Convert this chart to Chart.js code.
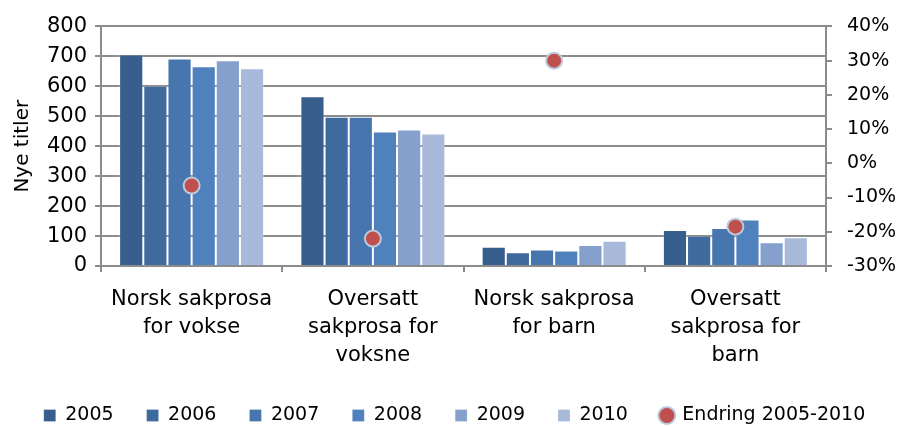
<!DOCTYPE html>
<html>
<head>
<meta charset="utf-8">
<script src="https://cdn.jsdelivr.net/npm/chart.js@4"></script>
<style>
html,body{margin:0;padding:0;background:#fff;}
#wrap{width:897px;height:427px;}
</style>
</head>
<body>
<div id="wrap"><canvas id="c" width="897" height="427"></canvas></div>
<script>
const categories = [
  ["Norsk sakprosa", "for vokse"],
  ["Oversatt", "sakprosa for", "voksne"],
  ["Norsk sakprosa", "for barn"],
  ["Oversatt", "sakprosa for", "barn"]
];
const years = ["2005", "2006", "2007", "2008", "2009", "2010"];
const v2005 = [706, 567, 64, 120];
const v2006 = [602, 498, 46, 101];
const v2007 = [693, 498, 55, 127];
const v2008 = [667, 449, 52, 155];
const v2009 = [687, 456, 70, 79];
const v2010 = [660, 442, 84, 96];
const endring = [-6.5, -22, 30, -18.5];
const endringLabel = "Endring 2005-2010";
const leftTicks = {min: 0, max: 800, step: 100};
const rightTicks = {min: -30, max: 40, step: 10};

const barColors = ["#375E8C", "#3F6A9E", "#4775AD", "#4F81BD", "#85A0CC", "#A9B9D9"];
const seriesValues = [v2005, v2006, v2007, v2008, v2009, v2010];

const FONT = "'DejaVu Sans', sans-serif";
const gridColor = "#8c8c8c";

const datasets = years.map((y, i) => ({
  type: 'bar',
  label: y,
  data: seriesValues[i],
  backgroundColor: barColors[i],
  borderColor: 'rgba(255,255,255,0.25)',
  borderWidth: 1,
  pointStyle: 'rect',
  yAxisID: 'y',
  order: 1,
  categoryPercentage: 0.8,
  barPercentage: 1.0
}));
datasets.push({
  type: 'line',
  label: endringLabel,
  data: endring,
  yAxisID: 'y1',
  showLine: false,
  pointStyle: 'circle',
  pointRadius: 8,
  pointHoverRadius: 8,
  pointBackgroundColor: '#C0504D',
  pointBorderColor: '#BCC9DC',
  pointBorderWidth: 2,
  backgroundColor: '#C0504D',
  borderColor: '#BCC9DC',
  borderWidth: 2,
  order: -1
});

const legendShift = {
  id: 'legendShift',
  afterLayout(chart) {
    if (chart.legend) {
      chart.legend.left += 6;
      chart.legend.right += 6;
    }
  }
};

new Chart(document.getElementById('c'), {
  data: {labels: categories, datasets: datasets},
  plugins: [legendShift],
  options: {
    responsive: false,
    animation: false,
    devicePixelRatio: 1,
    layout: {padding: {top: 19, right: 0, left: 0, bottom: 0}},
    plugins: {
      tooltip: {enabled: false},
      legend: {
        position: 'bottom',
        maxHeight: 54,
        labels: {
          usePointStyle: true,
          boxWidth: 12,
          boxHeight: 12,
          padding: 33,
          color: '#000',
          font: {family: FONT, size: 19},
          sort: (a, b) => a.datasetIndex - b.datasetIndex
        }
      }
    },
    scales: {
      x: {
        offset: true,
        grid: {offset: true, drawOnChartArea: false, color: gridColor, lineWidth: 2, tickLength: 6},
        border: {color: gridColor, width: 2},
        ticks: {color: '#000', font: {family: FONT, size: 21, lineHeight: 1.35}, padding: 13, maxRotation: 0, autoSkip: false},
        afterFit: (s) => { s.height = 107; }
      },
      y: {
        position: 'left',
        min: leftTicks.min, max: leftTicks.max,
        ticks: {stepSize: leftTicks.step, color: '#000', font: {family: FONT, size: 21}, padding: 8},
        grid: {color: gridColor, lineWidth: 2, tickLength: 6},
        border: {color: gridColor, width: 2},
        title: {display: true, text: 'Nye titler', color: '#000', font: {family: FONT, size: 20}, padding: {top: 11, bottom: 0}},
        afterFit: (s) => { s.width = 101; }
      },
      y1: {
        position: 'right',
        min: rightTicks.min, max: rightTicks.max,
        ticks: {stepSize: rightTicks.step, color: '#000', font: {family: FONT, size: 19}, padding: 15, callback: (v) => v + '%'},
        grid: {drawOnChartArea: false, color: gridColor, lineWidth: 2, tickLength: 6},
        border: {color: gridColor, width: 2},
        afterFit: (s) => { s.width = 71; }
      }
    }
  }
});
</script>
</body>
</html>
